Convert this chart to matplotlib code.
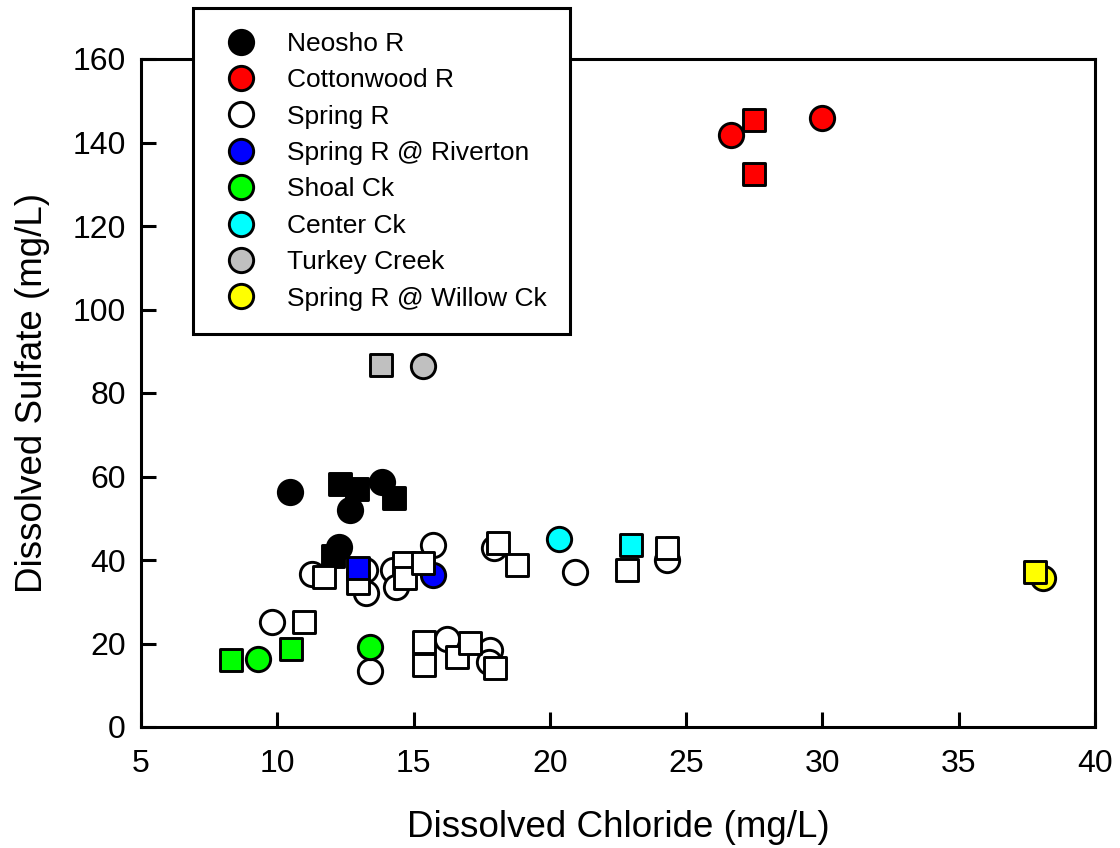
import matplotlib
matplotlib.use("Agg")
import matplotlib.pyplot as plt
from matplotlib.lines import Line2D
from matplotlib.markers import MarkerStyle

plt.rcParams["font.family"] = ["Liberation Sans", "DejaVu Sans"]

# site names and fill colours
sites = ["Neosho R", "Cottonwood R", "Spring R", "Spring R @ Riverton",
         "Shoal Ck", "Center Ck", "Turkey Creek", "Spring R @ Willow Ck"]
colors = ["#000000", "#ff0000", "#ffffff", "#0000ff",
          "#00ff00", "#00ffff", "#c0c0c0", "#ffff00"]

# circle samples (chloride, sulfate) per site
neosho_circ_x = [10.47, 13.85, 12.68, 12.26]
neosho_circ_y = [56.3, 58.6, 51.9, 43.0]
cotton_circ_x = [26.64, 29.98]
cotton_circ_y = [141.8, 145.9]
spring_circ_x = [9.81, 11.27, 13.22, 13.25, 14.24, 14.35, 15.71, 17.95,
                 20.92, 24.30, 16.22, 17.80, 17.75, 13.40]
spring_circ_y = [25.1, 36.6, 37.6, 32.1, 37.6, 33.5, 43.6, 42.9,
                 37.1, 40.0, 21.1, 18.4, 15.6, 13.4]
riverton_circ_x = [15.71]
riverton_circ_y = [36.4]
shoal_circ_x = [9.29, 13.40]
shoal_circ_y = [16.3, 19.2]
center_circ_x = [20.33]
center_circ_y = [45.0]
turkey_circ_x = [15.34]
turkey_circ_y = [86.5]
willow_circ_x = [38.09]
willow_circ_y = [35.7]

# square samples (chloride, sulfate) per site
neosho_sq_x = [12.30, 12.92, 14.28, 12.04]
neosho_sq_y = [58.2, 56.9, 54.8, 40.9]
cotton_sq_x = [27.49, 27.49]
cotton_sq_y = [145.4, 132.5]
spring_sq_x = [10.98, 11.71, 12.96, 14.65, 14.69, 15.35, 18.10, 18.79,
               22.83, 24.30, 15.38, 15.38, 16.59, 17.07, 17.99]
spring_sq_y = [25.1, 35.9, 34.5, 39.3, 35.7, 39.3, 44.1, 38.8,
               37.6, 42.9, 20.4, 14.8, 16.8, 20.1, 14.1]
riverton_sq_x = [12.96]
riverton_sq_y = [38.1]
shoal_sq_x = [8.30, 10.50]
shoal_sq_y = [16.0, 18.7]
center_sq_x = [22.97]
center_sq_y = [43.6]
turkey_sq_x = [13.80]
turkey_sq_y = [86.7]
willow_sq_x = [37.80]
willow_sq_y = [37.1]

circ_x = [neosho_circ_x, cotton_circ_x, spring_circ_x, riverton_circ_x,
          shoal_circ_x, center_circ_x, turkey_circ_x, willow_circ_x]
circ_y = [neosho_circ_y, cotton_circ_y, spring_circ_y, riverton_circ_y,
          shoal_circ_y, center_circ_y, turkey_circ_y, willow_circ_y]
sq_x = [neosho_sq_x, cotton_sq_x, spring_sq_x, riverton_sq_x,
        shoal_sq_x, center_sq_x, turkey_sq_x, willow_sq_x]
sq_y = [neosho_sq_y, cotton_sq_y, spring_sq_y, riverton_sq_y,
        shoal_sq_y, center_sq_y, turkey_sq_y, willow_sq_y]

fig = plt.figure(figsize=(11.2, 8.48), dpi=100)
ax = fig.add_axes([141 / 1120, 1 - 727 / 848, 954 / 1120, 668 / 848])

circ = MarkerStyle("o")
sq = MarkerStyle("s", joinstyle="round")
for cx, cy, c in zip(circ_x, circ_y, colors):
    ax.plot(cx, cy, ls="none", marker=circ, ms=17.5, mfc=c, mec="k", mew=2.1, zorder=3)
for sx, sy, c in zip(sq_x, sq_y, colors):
    ax.plot(sx, sy, ls="none", marker=sq, ms=15.3, mfc=c, mec="k", mew=2.1, zorder=4)

ax.set_xlim(5, 40)
ax.set_ylim(0, 160)
ax.set_xticks(range(5, 41, 5))
ax.set_yticks(range(0, 161, 20))
for s in ax.spines.values():
    s.set_linewidth(2.2)
ax.tick_params(direction="in", length=11, width=2.2, labelsize=23,
               top=False, right=False)
ax.tick_params(axis="x", pad=16)
ax.tick_params(axis="y", pad=11)
ax.set_xlabel("Dissolved Chloride (mg/L)", fontsize=26.5, labelpad=22)
ax.set_ylabel("Dissolved Sulfate (mg/L)", fontsize=26.5, labelpad=16)

handles = [Line2D([], [], ls="none", marker="o", ms=17.5, mfc=c, mec="k", mew=2.1)
           for c in colors]
leg = fig.legend(handles, sites, loc="upper left",
                 bbox_to_anchor=(193 / 1120, 1 - 8 / 848), borderaxespad=0,
                 fontsize=19, frameon=True, fancybox=False, edgecolor="k",
                 framealpha=1, borderpad=0.9, labelspacing=0.47,
                 handlelength=1.85, handletextpad=0.8)
leg.get_frame().set_linewidth(2.2)
leg.set_zorder(10)

fig.savefig("out.png", dpi=100)
